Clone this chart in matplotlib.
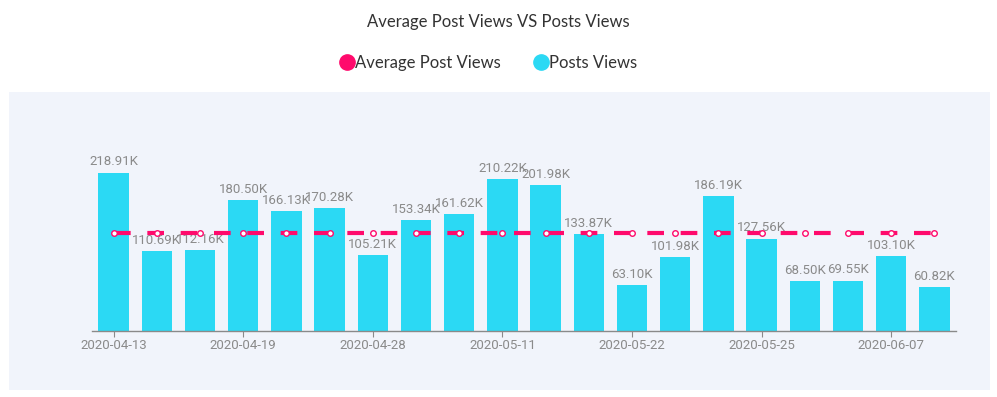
import numpy as np
import matplotlib

matplotlib.use("Agg")
import matplotlib.pyplot as plt
from matplotlib.lines import Line2D
from matplotlib.patches import Rectangle

# valeurs (en milliers de vues)
post_views = [218.91, 110.69, 112.16, 180.50, 166.13, 170.28, 105.21, 153.34,
              161.62, 210.22, 201.98, 133.87, 63.10, 101.98, 186.19, 127.56,
              68.50, 69.55, 103.10, 60.82]
tick_positions = [0, 3, 6, 9, 12, 15, 18]
tick_labels = ["2020-04-13", "2020-04-19", "2020-04-28", "2020-05-11",
               "2020-05-22", "2020-05-25", "2020-06-07"]

avg_views = np.mean(post_views)
x = np.arange(len(post_views))

BAR_COLOR = "#2bd9f4"
AVG_COLOR = "#ff0a6c"
TEXT_GRAY = "#8a8a8a"

W, H = 997, 397
fig = plt.figure(figsize=(W / 100, H / 100), dpi=100)
fig.patch.set_facecolor("white")

# panneau de fond
fig.patches.append(Rectangle((9 / W, 1 - 390 / H), (990 - 9) / W, (390 - 92) / H,
                             transform=fig.transFigure, facecolor="#f1f4fb",
                             edgecolor="none", zorder=0))

ax = fig.add_axes([92 / W, 1 - 331 / H, (956 - 92) / W, (331 - 150) / H])
ax.set_zorder(2)
ax.set_facecolor("none")

ax.bar(x, post_views, width=0.7, color=BAR_COLOR, zorder=2)
for xi, v in zip(x, post_views):
    ax.annotate(f"{v:.2f}K", (xi, v), xytext=(0, 3), textcoords="offset points",
                ha="center", va="bottom", fontsize=9.5, color=TEXT_GRAY,
                family="Roboto", zorder=3)

ax.plot(x, [avg_views] * len(x), color=AVG_COLOR, linewidth=3,
        dashes=(4, 4), zorder=4)
ax.plot(x, [avg_views] * len(x), linestyle="none", marker="o", markersize=4,
        markerfacecolor="white", markeredgecolor=AVG_COLOR, markeredgewidth=1,
        zorder=5)

ax.set_xlim(-0.5, len(x) - 0.5)
ax.set_ylim(0, 250)
ax.set_yticks([])
for side in ["top", "right", "left"]:
    ax.spines[side].set_visible(False)
ax.spines["bottom"].set_color("#8a8a8a")
ax.spines["bottom"].set_linewidth(1)
ax.set_xticks(tick_positions)
ax.set_xticklabels(tick_labels, fontsize=9.5, color=TEXT_GRAY, family="Roboto")
ax.tick_params(axis="x", length=4, color="#8a8a8a", pad=2)

fig.text(0.5, 1 - 22 / H, "Average Post Views VS Posts Views", ha="center",
         va="center", fontsize=12, color="#333333", family="Lato")

handles = [
    Line2D([], [], linestyle="none", marker="o", markersize=11,
           color=AVG_COLOR, label="Average Post Views"),
    Line2D([], [], linestyle="none", marker="o", markersize=11,
           color=BAR_COLOR, label="Posts Views"),
]
fig.legend(handles=handles, loc="center", bbox_to_anchor=(0.49, 1 - 63 / H),
           ncol=2, frameon=False, handlelength=0.8, handletextpad=0.1,
           columnspacing=2.0, prop={"family": "Lato", "size": 12},
           labelcolor="#333333")

fig.savefig("out.png", dpi=100)
plt.close(fig)
